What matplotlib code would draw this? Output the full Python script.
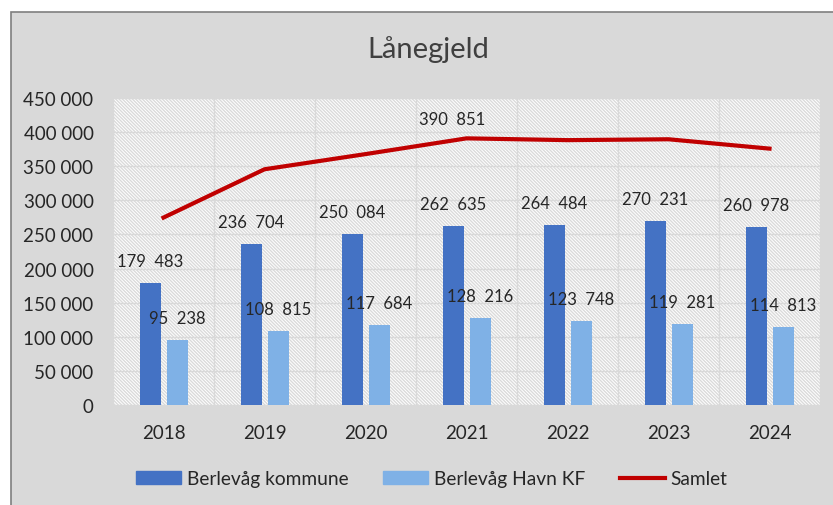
import numpy as np
import matplotlib.pyplot as plt
from matplotlib.patches import Rectangle
from matplotlib.lines import Line2D
from matplotlib.ticker import FuncFormatter

years = ["2018", "2019", "2020", "2021", "2022", "2023", "2024"]
kommune = [179483, 236704, 250084, 262635, 264484, 270231, 260978]
havn = [95238, 108815, 117684, 128216, 123748, 119281, 114813]
samlet = [274721, 345519, 367768, 390851, 388232, 389512, 375791]

DARK = "#4472c4"
LIGHT = "#7fb1e6"
RED = "#c00000"
BG = "#d9d9d9"
TXT = "#262626"

plt.rcParams["font.family"] = ["Lato", "DejaVu Sans"]
plt.rcParams["hatch.linewidth"] = 1.0

fig = plt.figure(figsize=(8.33, 5.06), dpi=100)
fig.patch.set_facecolor("white")
# chart frame
fig.patches.append(Rectangle((11/833, -0.01), 1.0, 1 - 13/506 + 0.01, transform=fig.transFigure,
                             facecolor=BG, edgecolor="#7f7f7f", linewidth=1.2, zorder=-1))

ax = fig.add_axes([113/833, 1 - 406/506, 707/833, 307/506])
ax.set_zorder(2)
ax.set_facecolor("white")
ax.add_patch(Rectangle((0, 0), 1, 1, transform=ax.transAxes, facecolor="white",
                       edgecolor="#dadada", hatch="\\" * 10, linewidth=0, zorder=0))

x = np.arange(len(years))
w = 0.21
dk, lt = -0.13, 0.135
ax.bar(x + dk, kommune, w, color=DARK, zorder=3, label="Berlevåg kommune")
ax.bar(x + lt, havn, w, color=LIGHT, zorder=3, label="Berlevåg Havn KF")
ax.plot(x, samlet, color=RED, linewidth=3, zorder=4, label="Samlet")

fmt = lambda v: f"{v:,.0f}".replace(",", " ")
lab = lambda v: fmt(v).replace(" ", "  ")
for i in range(len(years)):
    ax.annotate(lab(kommune[i]), (x[i] + dk, kommune[i]), xytext=(0, 10),
                textcoords="offset points", ha="center", va="bottom", fontsize=12, color=TXT, zorder=5)
    ax.annotate(lab(havn[i]), (x[i] + lt, havn[i]), xytext=(0, 10),
                textcoords="offset points", ha="center", va="bottom", fontsize=12, color=TXT, zorder=5)
ax.annotate(lab(samlet[3]), (x[3], samlet[3]), xytext=(-10.5, 8),
            textcoords="offset points", ha="center", va="bottom", fontsize=12, color=TXT, zorder=5)

ax.set_xlim(-0.5, len(years) - 0.5)
ax.set_ylim(0, 450000)
ax.set_yticks(np.arange(0, 450001, 50000))
ax.yaxis.set_major_formatter(FuncFormatter(lambda v, p: fmt(v)))
ax.set_xticks(x)
ax.set_xticklabels(years)
ax.set_xticks(np.arange(-0.5, len(years), 1), minor=True)
ax.grid(axis="y", which="major", color=BG, linewidth=1, zorder=1)
ax.grid(axis="x", which="minor", color=BG, linewidth=1, zorder=1)
ax.tick_params(axis="both", which="both", length=0, labelsize=13.5, colors=TXT)
ax.tick_params(axis="x", pad=14)
ax.tick_params(axis="y", pad=14)
for s in ax.spines.values():
    s.set_visible(False)

fig.text(428/833, 1 - 50/506, "Lånegjeld", ha="center", va="center", fontsize=21, color="#404040")

handles = [Rectangle((0, 0), 1, 1, color=DARK), Rectangle((0, 0), 1, 1, color=LIGHT),
           Line2D([], [], color=RED, linewidth=3)]
fig.legend(handles, ["Berlevåg kommune", "Berlevåg Havn KF", "Samlet"], loc="center",
           bbox_to_anchor=(432/833, 1 - 480/506), ncol=3, frameon=False, fontsize=13.8,
           handlelength=2.35, handleheight=0.65, columnspacing=1.8, handletextpad=0.3,
           labelcolor=TXT)

fig.savefig("out.png", dpi=100, facecolor=fig.get_facecolor())
